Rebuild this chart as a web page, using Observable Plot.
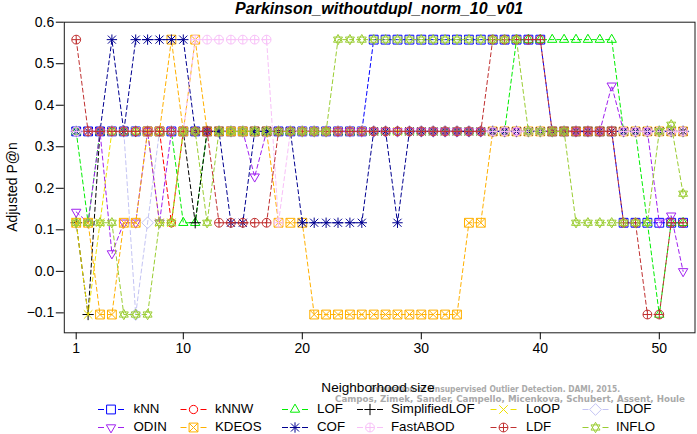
<!DOCTYPE html>
<html><head><meta charset="utf-8">
<script src="https://cdn.jsdelivr.net/npm/d3@7"></script>
<script src="https://cdn.jsdelivr.net/npm/@observablehq/plot@0.6"></script>
<style>
body{margin:0;background:#fff;}
#wrap{position:relative;width:697px;height:434px;overflow:hidden;background:#fff;}
#chart{position:absolute;left:0;top:0;}
#overlay{position:absolute;left:0;top:0;}
#title{position:absolute;left:63.8px;width:630.7px;top:0px;line-height:18px;text-align:center;font:bold italic 16px "Liberation Sans",Arial,sans-serif;color:#000;}
</style></head>
<body><div id="wrap"><div id="chart"></div><svg id="overlay" width="697" height="434"></svg><div id="title">Parkinson_withoutdupl_norm_10_v01</div></div>
<script>
const neighborhood = [1,2,3,4,5,6,7,8,9,10,11,12,13,14,15,16,17,18,19,20,21,22,23,24,25,26,27,28,29,30,31,32,33,34,35,36,37,38,39,40,41,42,43,44,45,46,47,48,49,50,51,52];
const xTicks = [1,10,20,30,40,50];
const yTicks = [-0.1,0.0,0.1,0.2,0.3,0.4,0.5,0.6];
const methods = ["kNN","kNNW","LOF","SimplifiedLOF","LoOP","LDOF","ODIN","KDEOS","COF","FastABOD","LDF","INFLO"];
const colors = ["#0000FF","#FF0000","#00EE00","#000000","#EEE000","#C4C4F4","#A020F0","#FFB000","#000090","#F8C0F8","#C03030","#9ACD32"];

const kNN = [0.337,0.337,0.337,0.337,0.337,0.337,0.337,0.337,0.337,0.337,0.337,0.337,0.337,0.337,0.337,0.337,0.337,0.337,0.337,0.337,0.337,0.337,0.337,0.337,0.337,0.558,0.558,0.558,0.558,0.558,0.558,0.558,0.558,0.558,0.558,0.558,0.558,0.558,0.558,0.558,0.337,0.337,0.337,0.337,0.337,0.337,0.117,0.117,0.117,0.117,0.117,0.117];
const kNNW = [0.337,0.337,0.337,0.337,0.337,0.337,0.337,0.337,0.117,0.337,0.337,0.337,0.337,0.337,0.337,0.337,0.337,0.337,0.337,0.337,0.337,0.337,0.337,0.337,0.337,0.337,0.337,0.337,0.337,0.337,0.337,0.337,0.337,0.337,0.337,0.337,0.337,0.337,0.337,0.337,0.337,0.337,0.337,0.337,0.337,0.337,0.337,0.337,0.337,0.337,0.337,0.337];
const LOF = [0.337,0.117,0.337,0.337,0.337,0.337,0.337,0.337,0.337,0.117,0.117,0.337,0.337,0.337,0.337,0.337,0.337,0.337,0.337,0.337,0.337,0.337,0.337,0.337,0.337,0.337,0.337,0.337,0.337,0.337,0.337,0.337,0.337,0.337,0.337,0.337,0.337,0.558,0.558,0.558,0.558,0.558,0.558,0.558,0.558,0.558,0.337,0.337,0.117,-0.104,0.117,0.117];
const SimplifiedLOF = [0.117,-0.104,0.337,0.337,0.337,0.337,0.337,0.337,0.337,0.337,0.117,0.337,0.337,0.337,0.337,0.337,0.337,0.337,0.337,0.337,0.337,0.337,0.337,0.337,0.337,0.337,0.337,0.337,0.337,0.337,0.337,0.337,0.337,0.337,0.337,0.337,0.337,0.337,0.337,0.337,0.337,0.337,0.337,0.337,0.337,0.337,0.337,0.337,0.337,0.337,0.337,0.337];
const LoOP = [0.117,-0.104,0.117,0.337,0.337,0.337,0.337,0.117,0.117,0.337,0.337,0.337,0.337,0.337,0.337,0.337,0.337,0.337,0.337,0.337,0.337,0.337,0.337,0.337,0.337,0.337,0.337,0.337,0.337,0.337,0.337,0.337,0.337,0.337,0.337,0.337,0.337,0.337,0.337,0.337,0.337,0.337,0.337,0.337,0.337,0.337,0.337,0.337,0.337,0.337,0.337,0.337];
const LDOF = [0.337,0.337,0.337,0.337,0.337,-0.104,0.117,0.337,0.337,0.337,0.337,0.337,0.337,0.337,0.337,0.337,0.337,0.337,0.337,0.337,0.337,0.337,0.337,0.337,0.337,0.337,0.337,0.337,0.337,0.337,0.337,0.337,0.337,0.337,0.337,0.337,0.337,0.337,0.337,0.337,0.337,0.337,0.337,0.337,0.337,0.337,0.337,0.337,0.337,0.337,0.337,0.337];
const ODIN = [0.143,0.117,0.337,0.043,0.117,0.117,0.337,0.117,0.337,0.337,0.337,0.337,0.337,0.337,0.337,0.228,0.337,0.337,0.337,0.337,0.337,0.337,0.337,0.337,0.337,0.337,0.337,0.337,0.337,0.337,0.337,0.337,0.337,0.337,0.337,0.337,0.337,0.337,0.337,0.337,0.337,0.337,0.337,0.337,0.337,0.447,0.337,0.337,0.337,0.117,0.134,0.0];
const KDEOS = [0.117,0.117,-0.104,-0.104,0.117,0.117,0.337,0.337,0.558,0.337,0.558,0.337,0.337,0.337,0.337,0.337,0.337,0.117,0.117,0.117,-0.104,-0.104,-0.104,-0.104,-0.104,-0.104,-0.104,-0.104,-0.104,-0.104,-0.104,-0.104,-0.104,0.117,0.117,0.337,0.337,0.337,0.337,0.337,0.337,0.337,0.337,0.337,0.337,0.337,0.337,0.337,0.337,0.337,0.337,0.337];
const COF = [0.337,0.337,0.337,0.558,0.337,0.558,0.558,0.558,0.558,0.558,0.337,0.337,0.337,0.117,0.117,0.337,0.337,0.337,0.337,0.117,0.117,0.117,0.117,0.117,0.117,0.337,0.337,0.117,0.337,0.337,0.337,0.337,0.337,0.337,0.337,0.337,0.337,0.337,0.337,0.337,0.337,0.337,0.337,0.337,0.337,0.337,0.337,0.337,0.337,0.337,0.337,0.337];
const FastABOD = [0.337,0.337,0.337,0.337,0.337,0.337,0.337,0.337,0.337,0.337,0.558,0.558,0.558,0.558,0.558,0.558,0.558,0.117,0.337,0.337,0.337,0.337,0.337,0.337,0.337,0.337,0.337,0.337,0.337,0.337,0.337,0.337,0.337,0.337,0.337,0.337,0.337,0.337,0.337,0.337,0.337,0.337,0.337,0.337,0.337,0.337,0.337,0.337,0.337,0.337,0.337,0.337];
const LDF = [0.558,0.337,0.337,0.337,0.337,0.337,0.337,0.337,0.337,0.337,0.337,0.337,0.117,0.117,0.117,0.117,0.117,0.337,0.337,0.337,0.337,0.337,0.337,0.337,0.337,0.337,0.337,0.337,0.337,0.337,0.337,0.337,0.337,0.337,0.337,0.558,0.558,0.558,0.558,0.558,0.337,0.337,0.337,0.337,0.337,0.337,0.117,0.117,-0.104,-0.104,0.117,0.117];
const INFLO = [0.117,0.117,0.117,0.117,-0.104,-0.104,-0.104,0.117,0.117,0.337,0.337,0.117,0.337,0.337,0.337,0.337,0.337,0.337,0.337,0.337,0.337,0.337,0.558,0.558,0.558,0.558,0.558,0.558,0.558,0.558,0.558,0.558,0.558,0.558,0.558,0.558,0.558,0.558,0.337,0.337,0.337,0.337,0.117,0.117,0.117,0.117,0.117,0.117,0.117,0.337,0.353,0.187];

const seriesList = [kNN,kNNW,LOF,SimplifiedLOF,LoOP,LDOF,ODIN,KDEOS,COF,FastABOD,LDF,INFLO];

// custom R-like symbols
const rad = s => Math.sqrt(s/Math.PI);
const symSquare = {draw(c,s){const r=rad(s)*0.98;c.moveTo(-r,-r);c.lineTo(r,-r);c.lineTo(r,r);c.lineTo(-r,r);c.closePath();}};
const symCircle = {draw(c,s){const r=rad(s)*0.92;c.moveTo(r,0);c.arc(0,0,r,0,2*Math.PI);c.closePath();}};
const symTriUp = {draw(c,s){const r=rad(s)*1.2;c.moveTo(0,-r);c.lineTo(r*0.866,r*0.5);c.lineTo(-r*0.866,r*0.5);c.closePath();}};
const symTriDown = {draw(c,s){const r=rad(s)*1.2;c.moveTo(0,r);c.lineTo(r*0.866,-r*0.5);c.lineTo(-r*0.866,-r*0.5);c.closePath();}};
const symPlus = {draw(c,s){const r=rad(s)*1.25;c.moveTo(-r,0);c.lineTo(r,0);c.moveTo(0,-r);c.lineTo(0,r);}};
const symTimes = {draw(c,s){const r=rad(s)*0.95;c.moveTo(-r,-r);c.lineTo(r,r);c.moveTo(-r,r);c.lineTo(r,-r);}};
const symDiamond = {draw(c,s){const r=rad(s)*1.3;c.moveTo(0,-r);c.lineTo(r,0);c.lineTo(0,r);c.lineTo(-r,0);c.closePath();}};
const symSqX = {draw(c,s){const r=rad(s)*0.98;c.moveTo(-r,-r);c.lineTo(r,-r);c.lineTo(r,r);c.lineTo(-r,r);c.closePath();c.moveTo(-r,-r);c.lineTo(r,r);c.moveTo(-r,r);c.lineTo(r,-r);}};
const symAst = {draw(c,s){const r=rad(s)*1.15,d=r*0.78;c.moveTo(-r,0);c.lineTo(r,0);c.moveTo(0,-r);c.lineTo(0,r);c.moveTo(-d,-d);c.lineTo(d,d);c.moveTo(-d,d);c.lineTo(d,-d);}};
const symCPlus = {draw(c,s){const r=rad(s)*0.98;c.moveTo(r,0);c.arc(0,0,r,0,2*Math.PI);c.closePath();c.moveTo(-r,0);c.lineTo(r,0);c.moveTo(0,-r);c.lineTo(0,r);}};
const symStarDavid = {draw(c,s){const r=rad(s)*1.15;c.moveTo(0,-r);c.lineTo(r*0.866,r*0.5);c.lineTo(-r*0.866,r*0.5);c.closePath();c.moveTo(0,r);c.lineTo(r*0.866,-r*0.5);c.lineTo(-r*0.866,-r*0.5);c.closePath();}};
const symbols = [symSquare,symCircle,symTriUp,symPlus,symTimes,symDiamond,symTriDown,symSqX,symAst,symCPlus,symCPlus,symStarDavid];

const rows = methods.flatMap((m,j)=>neighborhood.map((k,i)=>({method:m,k,v:seriesList[j][i]})));

const marks = [];
methods.forEach((m,j)=>{
  const d = rows.filter(r=>r.method===m);
  marks.push(Plot.line(d,{x:"k",y:"v",stroke:colors[j],strokeWidth:1,strokeDasharray:"4,3"}));
  marks.push(Plot.dot(d,{x:"k",y:"v",symbol:symbols[j],r:4.5,stroke:colors[j],fill:"none",strokeWidth:1}));
});
marks.push(Plot.frame({stroke:"#1a1a1a",strokeWidth:1}));

const chart = Plot.plot({
  width:697,height:365,
  marginLeft:63.8,marginRight:2.5,marginTop:21.7,marginBottom:32.7,
  style:{fontFamily:'"Liberation Sans",Arial,sans-serif',fontSize:"14px",background:"transparent",color:"#000"},
  x:{domain:[0,53],ticks:xTicks,tickSize:7,tickPadding:3,label:null},
  y:{domain:[-0.148,0.6],ticks:yTicks,tickFormat:d3.format(".1f"),tickSize:8,tickPadding:2,label:null},
  marks
});
document.getElementById("chart").appendChild(chart);

// overlay: axis titles, watermark, legend
const ov = d3.select("#overlay");
const font = '"Liberation Sans",Arial,sans-serif';
ov.append("text").attr("transform","translate(13,187) rotate(-90)").attr("text-anchor","middle").attr("dominant-baseline","middle")
  .style("font-family",font).style("font-size","14px").text("Adjusted P@n");
const wm = ov.append("g").style("font-family",'"DejaVu Sans Condensed","DejaVu Sans",sans-serif').style("font-weight","bold").style("font-size","9px").attr("fill","#aaaaaa");
wm.append("text").attr("x",370).attr("y",392).attr("textLength",250).attr("lengthAdjust","spacingAndGlyphs").text("Evaluation of Unsupervised Outlier Detection. DAMI, 2015.");
wm.append("text").attr("x",335).attr("y",401.5).attr("textLength",350).attr("lengthAdjust","spacingAndGlyphs").text("Campos, Zimek, Sander, Campello, Micenkova, Schubert, Assent, Houle");
ov.append("text").attr("x",378).attr("y",388).attr("text-anchor","middle").attr("dominant-baseline","middle")
  .style("font-family",font).style("font-size","13.6px").text("Neighborhood size");

const markerX = [111,193.5,295,370,503.5,595.5];
const textX = [133.5,215,317,391,526,616];
const rowY = [409.5,427.5];
methods.forEach((m,j)=>{
  const col = j%6, row = Math.floor(j/6);
  const mx = markerX[col], y = rowY[row];
  const g = ov.append("g");
  g.append("line").attr("x1",mx-13).attr("x2",mx-7).attr("y1",y).attr("y2",y).attr("stroke",colors[j]).attr("stroke-width",1);
  g.append("line").attr("x1",mx+7).attr("x2",mx+13).attr("y1",y).attr("y2",y).attr("stroke",colors[j]).attr("stroke-width",1);
  g.append("path").attr("transform",`translate(${mx},${y})`).attr("d",d3.symbol(symbols[j],4.5*4.5*Math.PI)()).attr("fill","none").attr("stroke",colors[j]).attr("stroke-width",1);
  g.append("text").attr("x",textX[col]).attr("y",y).attr("dominant-baseline","middle").style("font-family",font).style("font-size","13.3px").attr("fill","#000").text(m);
});
</script>
</body></html>
